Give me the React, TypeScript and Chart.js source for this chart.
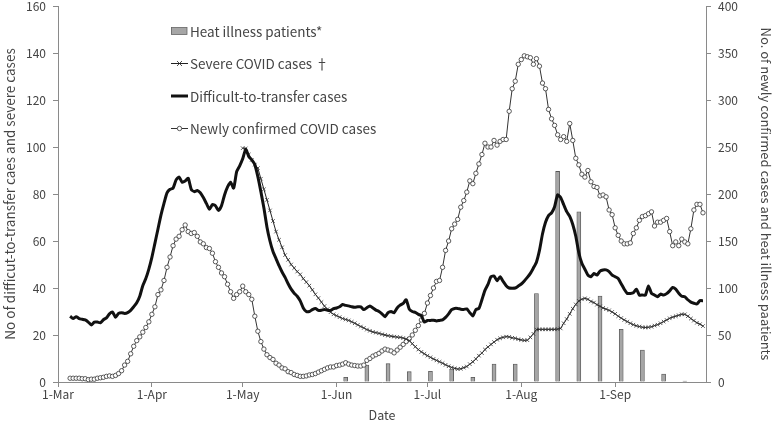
import React, { useEffect, useRef } from 'react';
import { Chart, registerables } from 'chart.js';

Chart.register(...registerables);

// ---- data ----
const monthLabels = ['1-Mar', '1-Apr', '1-May', '1-Jun', '1-Jul', '1-Aug', '1-Sep'];
const monthStartDays = [0, 31, 61, 92, 122, 153, 184]; // days since 1-Mar
const axisEndDay = 214; // 1-Oct

const dailyStartDay = 4; // 5-Mar
const severeStartDay = 61; // 1-May
const heatStartDay = 95; // 4-Jun, weekly
const heatStepDays = 7;

const newlyConfirmed = [
  4, 4, 4, 4, 3.5, 3.5, 2.5, 3, 3, 4,
  4.5, 5, 6, 6.5, 6, 7, 9, 12, 18, 22,
  30, 38, 44, 48, 53, 58, 64, 72, 80, 93,
  98, 108, 122, 133, 145, 152, 155, 162, 167, 160,
  158, 159, 155, 149, 147, 143, 142, 137, 128, 122,
  116, 112, 104, 96, 89, 93, 96, 102, 96, 93,
  88, 70, 54, 43, 35, 29, 26, 24, 20, 18,
  15, 14, 11, 10, 8, 7, 6, 6, 6.5, 7.5,
  8, 9, 10.5, 12, 13.5, 15, 16, 16, 17.5, 18,
  19, 20.5, 19, 18, 17.5, 17, 17, 18, 23, 25,
  27.5, 29, 30.5, 33, 35, 34, 33, 31, 34, 37,
  40, 43, 46, 50, 55, 60, 66, 73, 84, 92,
  100, 107, 108, 122, 140, 150, 163, 168, 173, 186,
  193, 202, 214, 211, 222, 232, 242, 254, 250, 250,
  257, 252, 256, 258, 258, 288, 312, 320, 338, 343,
  347, 346, 345, 338, 344, 336, 318, 312, 290, 280,
  273, 263, 258, 261, 256, 275, 257, 238, 231, 221,
  218, 225, 213, 208, 207, 198, 199, 197, 183, 178,
  164, 156, 150, 147, 147, 148, 158, 164, 172, 176,
  177, 179, 181, 166, 170, 170, 172, 174, 160, 145,
  149, 145, 152, 149, 147, 163, 183, 189, 189, 180,
];

const difficultToTransfer = [
  28, 27, 27.8, 27, 26.7, 26.4, 25.5, 24.3, 25.5, 25.5,
  25.2, 26.5, 27.3, 29, 29.8, 27.5, 29.2, 29.5, 29.2, 29.5,
  30.5, 32, 33.7, 36.5, 41, 44, 48, 53, 59, 65,
  71, 76, 80.5, 82, 82.5, 86, 87.2, 85, 85.5, 86.7,
  82, 81, 81.5, 80.5, 78.5, 76, 73.5, 75.5, 75, 73,
  75, 79.6, 83, 85, 82.5, 89.5, 92, 95, 99, 96,
  94.5, 92.5, 87.4, 81, 74, 66, 60, 55.5, 52.5, 49.5,
  46.8, 44.5, 41.8, 39.5, 37.8, 36.5, 34.5, 31.5, 30, 30,
  30.8, 31.3, 30.5, 30.5, 30.9, 30.5, 30.5, 31.2, 31.5, 32,
  33, 32.6, 32.4, 32, 31.8, 32, 32, 30.8, 31.6, 32.3,
  31.5, 30.6, 30, 29, 27.8, 29.5, 30, 29.5, 31.5, 32.7,
  33.5, 35, 31, 30, 29.6, 28.8, 28.2, 25.5, 26.2, 26.2,
  26.3, 26, 26.2, 26.4, 27.5, 29, 30.8, 31.3, 31.3, 31,
  30.9, 31.1, 29.5, 28.1, 30.8, 31.3, 35, 39, 41.5, 44.8,
  45.1, 43.1, 44.8, 42.8, 41, 40, 39.9, 40, 40.8, 41.7,
  43, 44.5, 46.2, 48.5, 51, 56, 63, 68, 70.8, 72,
  74.6, 79.6, 78.5, 75.5, 72.5, 70.5, 67, 62, 55, 50.5,
  48, 45.5, 44.8, 46.2, 45.5, 47.2, 47.7, 47.7, 47, 45.5,
  44.8, 44, 41.8, 39.5, 37.7, 37.7, 38, 39.5, 37, 37,
  37, 40.9, 37.7, 37, 36.3, 37.4, 37, 37.6, 38.8, 40.2,
  39.5, 37.8, 36.5, 36.3, 35, 34, 33.5, 33.2, 34.6, 34.6,
];

const severeCases = [
  99.5, 99.4, 96.8, 94.5, 92.5, 91, 86.5, 82, 77.5, 73,
  68.5, 64, 60.5, 57.3, 54, 52, 50, 48.5, 47, 45.8,
  44, 42.5, 41, 39.2, 37.3, 35.7, 34, 32.3, 31, 29.7,
  28.8, 28.2, 27.6, 27, 26.6, 26.2, 25.6, 25, 24.3, 23.6,
  23, 22.3, 21.8, 21.3, 21, 20.7, 20.3, 20, 19.7, 19.5,
  19.3, 19.1, 19, 18.7, 18.3, 17.6, 16.3, 15, 13.8, 12.8,
  12, 11.2, 10.5, 9.8, 9.2, 8.6, 8, 7.3, 6.7, 6.2,
  5.8, 5.5, 5.6, 6.1, 6.6, 7.6, 8.6, 9.8, 11.2, 12.3,
  13.8, 14.9, 16, 17, 18, 18.6, 19, 19.3, 19.2, 18.8,
  18.6, 18.2, 17.9, 17.7, 17.8, 19, 20.5, 22.3, 22.4, 22.4,
  22.4, 22.4, 22.4, 22.4, 22.5, 22.8, 25, 26.8, 29, 31.2,
  33, 34.5, 35.2, 35.6, 35.2, 34.3, 33.8, 32.9, 32.2, 31.5,
  31, 30.5, 29.8, 29, 28, 27.2, 26.4, 25.7, 25, 24.4,
  23.9, 23.6, 23.3, 23.2, 23.3, 23.5, 24, 24.4, 25, 25.7,
  26.4, 27.1, 27.6, 28, 28.4, 28.8, 28.8, 28, 27, 26.1,
  25.2, 24.6, 23.8,
];

const heatIllness = [5, 18, 19.5, 11, 11.3, 13.8, 5, 19, 19, 94, 224, 181, 91.5, 56, 34, 8.5, 1];

const seriesLabels = [
  'Heat illness patients*',
  'Severe COVID cases \u2020',
  'Difficult-to-transfer cases',
  'Newly confirmed COVID cases',
];

const leftTitle = 'No of difficut-to-transfer caes and severe cases';
const rightTitle = 'No. of newly confirmed cases and heat illness paatients';
const xTitle = 'Date';

// ---- style ----
const FONT = '"Noto Sans CJK JP", "Noto Sans", sans-serif';
const TEXT = '#444';
const AXIS = '#8a8a8a';
const INK = '#222';

const toPoints = (arr: number[], start: number, step = 1) =>
  arr.map((v, i) => ({ x: start + i * step, y: v }));

const legendPlugin = {
  id: 'customLegend',
  afterDraw(chart: any) {
    const ctx = chart.ctx as CanvasRenderingContext2D;
    const x0 = 171;
    const y0 = 31;
    const gap = 32.5;
    const symW = 17;
    chart.data.datasets.forEach((ds: any, i: number) => {
      const y = y0 + i * gap;
      ctx.save();
      if (ds.type === 'bar') {
        ctx.fillStyle = ds.backgroundColor;
        ctx.fillRect(x0, y - 3.5, 16, 7);
        ctx.strokeStyle = '#666';
        ctx.lineWidth = 0.8;
        ctx.strokeRect(x0 + 0.5, y - 3.5, 15.5, 7);
      } else {
        ctx.strokeStyle = ds.borderColor;
        ctx.lineWidth = ds.borderWidth;
        ctx.beginPath();
        ctx.moveTo(x0, y);
        ctx.lineTo(x0 + symW, y);
        ctx.stroke();
        if (ds.pointRadius > 0) {
          const cx = x0 + symW / 2;
          ctx.lineWidth = 0.8;
          if (ds.pointStyle === 'circle') {
            ctx.beginPath();
            ctx.arc(cx, y, ds.pointRadius, 0, Math.PI * 2);
            ctx.fillStyle = '#fff';
            ctx.fill();
            ctx.stroke();
          } else {
            const r = ds.pointRadius;
            ctx.beginPath();
            ctx.moveTo(cx - r, y - r);
            ctx.lineTo(cx + r, y + r);
            ctx.moveTo(cx - r, y + r);
            ctx.lineTo(cx + r, y - r);
            ctx.stroke();
          }
        }
      }
      ctx.fillStyle = TEXT;
      ctx.font = `13.5px ${FONT}`;
      ctx.textBaseline = 'middle';
      ctx.textAlign = 'left';
      ctx.fillText(ds.label, x0 + symW + 2, y + 0.5);
      ctx.restore();
    });
  },
};

export default function App() {
  const canvasRef = useRef<HTMLCanvasElement | null>(null);

  useEffect(() => {
    document.body.style.margin = '0';
    const canvas = canvasRef.current;
    if (!canvas) return;
    const tickFont = { family: FONT, size: 12 };
    const fixVertical = (width: number) => (scale: any) => {
      scale.width = width;
      scale.paddingTop = 6;
      scale.paddingBottom = 0;
    };
    const chart = new Chart(canvas, {
      type: 'line',
      data: {
        datasets: [
          {
            type: 'bar',
            label: seriesLabels[0],
            data: toPoints(heatIllness, heatStartDay, heatStepDays),
            yAxisID: 'y2',
            backgroundColor: '#a6a6a6',
            borderColor: '#555',
            borderWidth: 0.8,
            barThickness: 4,
            order: 4,
          } as any,
          {
            type: 'line',
            label: seriesLabels[1],
            data: toPoints(severeCases, severeStartDay),
            yAxisID: 'y',
            borderColor: INK,
            borderWidth: 1,
            pointStyle: 'crossRot',
            pointRadius: 2.5,
            pointBorderColor: '#333',
            pointBorderWidth: 0.8,
            tension: 0,
            order: 2,
          },
          {
            type: 'line',
            label: seriesLabels[2],
            data: toPoints(difficultToTransfer, dailyStartDay),
            yAxisID: 'y',
            borderColor: '#111',
            borderWidth: 3,
            pointRadius: 0,
            tension: 0.2,
            order: 1,
          },
          {
            type: 'line',
            label: seriesLabels[3],
            data: toPoints(newlyConfirmed, dailyStartDay),
            yAxisID: 'y2',
            borderColor: '#333',
            borderWidth: 1,
            pointStyle: 'circle',
            pointRadius: 2.2,
            pointBackgroundColor: '#fff',
            pointBorderColor: '#333',
            pointBorderWidth: 0.8,
            tension: 0,
            order: 3,
          },
        ],
      },
      options: {
        responsive: false,
        animation: false,
        layout: { padding: { top: 0, left: 0, right: 0, bottom: 0 } },
        plugins: {
          legend: { display: false },
          tooltip: { enabled: false },
        },
        scales: {
          x: {
            type: 'linear',
            min: 0,
            max: axisEndDay,
            offset: false,
            afterBuildTicks: (scale: any) => {
              scale.ticks = monthStartDays.map((v) => ({ value: v }));
            },
            afterFit: (scale: any) => {
              scale.height = 46;
            },
            ticks: {
              autoSkip: false,
              maxRotation: 0,
              font: tickFont,
              color: TEXT,
              padding: 0,
              callback: (v: any) => {
                const i = monthStartDays.indexOf(Number(v));
                return i >= 0 ? monthLabels[i] : '';
              },
            },
            grid: { display: true, drawOnChartArea: false, drawTicks: true, tickLength: 5, color: AXIS, offset: false },
            border: { display: true, color: AXIS },
            title: { display: true, text: xTitle, font: { family: FONT, size: 12.5 }, color: TEXT, padding: { top: 2, bottom: 5 } },
          },
          y: {
            type: 'linear',
            position: 'left',
            min: 0,
            max: 160,
            afterFit: fixVertical(58),
            ticks: { stepSize: 20, font: tickFont, color: TEXT, padding: 7 },
            grid: { display: true, drawOnChartArea: false, drawTicks: true, tickLength: 5, color: AXIS },
            border: { display: true, color: AXIS },
            title: { display: true, text: leftTitle, font: { family: FONT, size: 13.5 }, color: TEXT, padding: { top: 2, bottom: 0 } },
          },
          y2: {
            type: 'linear',
            position: 'right',
            min: 0,
            max: 400,
            afterFit: fixVertical(68),
            ticks: { stepSize: 50, font: tickFont, color: TEXT, padding: 7 },
            grid: { display: true, drawOnChartArea: false, drawTicks: true, tickLength: 5, color: AXIS },
            border: { display: true, color: AXIS },
            title: { display: true, text: rightTitle, font: { family: FONT, size: 13 }, color: TEXT, padding: { top: 0, bottom: 0 } },
          },
        },
      },
      plugins: [legendPlugin],
    });
    return () => chart.destroy();
  }, []);

  return (
    <div style={{ width: 774, height: 428, background: '#fff' }}>
      <canvas ref={canvasRef} width={774} height={428} style={{ display: 'block' }} />
    </div>
  );
}
